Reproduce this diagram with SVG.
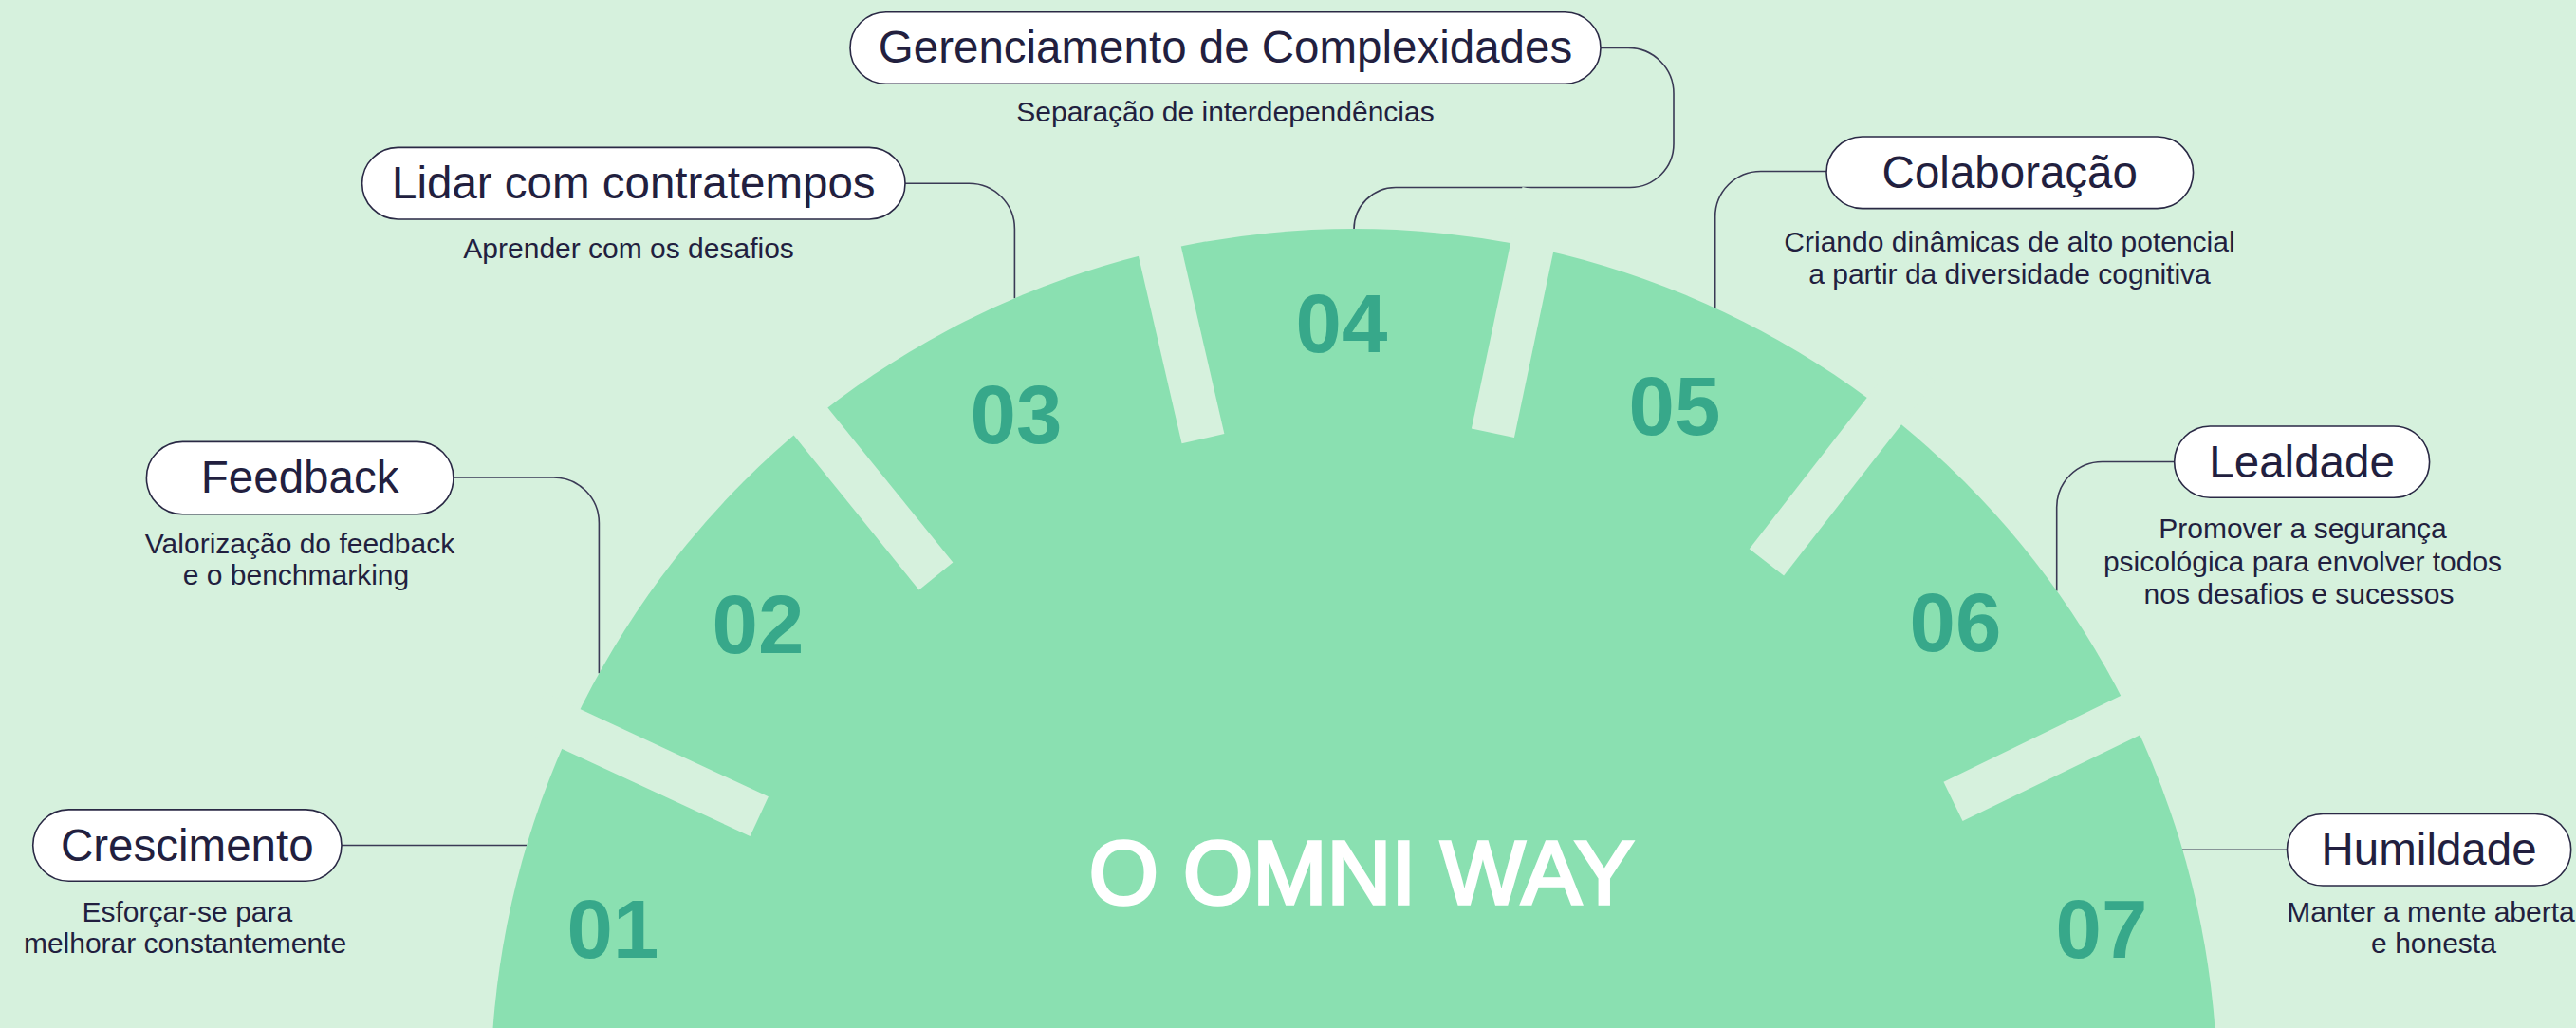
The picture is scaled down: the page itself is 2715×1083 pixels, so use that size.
<svg xmlns="http://www.w3.org/2000/svg" width="2715" height="1083" viewBox="0 0 2715 1083">
<style>
.bg{fill:#D6F1DD}
.wheel{fill:#8AE0B1}
.gap{fill:#D6F1DD}
.num{font-family:"Liberation Sans",Arial,sans-serif;font-weight:bold;font-size:87px;fill:#37A88A;text-anchor:middle}
.center{font-family:"Liberation Sans",Arial,sans-serif;font-size:94px;fill:#FFFFFF;stroke:#FFFFFF;stroke-width:3.6;text-anchor:middle}
.pill{fill:#FFFFFF;stroke:#2A2945;stroke-width:1.6}
.title{font-family:"Liberation Sans",Arial,sans-serif;font-size:47.5px;fill:#221F3F;text-anchor:middle}
.desc{font-family:"Liberation Sans",Arial,sans-serif;font-size:30px;fill:#221F3F;text-anchor:middle}
.conn{fill:none;stroke:#3A3A55;stroke-width:1.6}
</style>
<rect class="bg" x="0" y="0" width="2715" height="1083"/>

<g id="connectors">
<path class="conn" d="M360,890.5 H555"/>
<path class="conn" d="M477.9,503 H583.4 A48,48 0 0 1 631.4,551 V709.3"/>
<path class="conn" d="M954,193.2 H1021.4 A48,48 0 0 1 1069.4,241.2 V314.2"/>
<path class="conn" d="M1687,50.4 H1716 A48,48 0 0 1 1764,98.4 V151.5 A46,46 0 0 1 1718,197.5 H1471 A44,44 0 0 0 1427,241.5 V245"/>
<path class="conn" d="M1925,180.5 H1855.7 A48,48 0 0 0 1807.7,228.5 V324.5"/>
<path class="conn" d="M2291.7,486.5 H2215.7 A48,48 0 0 0 2167.7,534.5 V622.4"/>
<path class="conn" d="M2410.5,895.3 H2298.7"/>
</g>

<g id="wheel">
<circle class="wheel" cx="1427" cy="1151" r="910"/>
<rect class="gap" x="2118" y="1128" width="260" height="46" transform="rotate(-155.1 1427 1151)"/>
<rect class="gap" x="2127" y="1128" width="260" height="46" transform="rotate(-129.0 1427 1151)"/>
<rect class="gap" x="2134" y="1128" width="260" height="46" transform="rotate(-103.0 1427 1151)"/>
<rect class="gap" x="2137" y="1128" width="260" height="46" transform="rotate(-78.1 1427 1151)"/>
<rect class="gap" x="2135" y="1128" width="260" height="46" transform="rotate(-52.1 1427 1151)"/>
<rect class="gap" x="2129" y="1128" width="260" height="46" transform="rotate(-25.9 1427 1151)"/>
<text class="center" x="1435" y="951.5">O OMNI WAY</text>
</g>

<g id="segment-01"><text class="num" x="646" y="1009">01</text></g>
<g id="segment-02"><text class="num" x="799" y="688">02</text></g>
<g id="segment-03"><text class="num" x="1071" y="467">03</text></g>
<g id="segment-04"><text class="num" x="1414" y="371">04</text></g>
<g id="segment-05"><text class="num" x="1765" y="458">05</text></g>
<g id="segment-06"><text class="num" x="2061" y="686">06</text></g>
<g id="segment-07"><text class="num" x="2215" y="1009">07</text></g>

<g id="node-crescimento">
<rect class="pill" x="34.7" y="852.9" width="325.3" height="75.4" rx="37.7"/>
<text class="title" x="197.3" y="906.5">Crescimento</text>
<text class="desc" x="197.3" y="970.6">Esforçar-se para</text>
<text class="desc" x="195" y="1003.5">melhorar constantemente</text>
</g>

<g id="node-feedback">
<rect class="pill" x="154.4" y="465.4" width="323.5" height="76.4" rx="38"/>
<text class="title" x="316.1" y="519">Feedback</text>
<text class="desc" x="316" y="582.8">Valorização do feedback</text>
<text class="desc" x="312" y="616">e o benchmarking</text>
</g>

<g id="node-contratempos">
<rect class="pill" x="381.6" y="155.4" width="572.4" height="75.6" rx="37.8"/>
<text class="title" x="667.8" y="209">Lidar com contratempos</text>
<text class="desc" x="662.6" y="272">Aprender com os desafios</text>
</g>

<g id="node-complexidades">
<rect class="pill" x="896" y="12.7" width="791" height="75.6" rx="37.8"/>
<text class="title" x="1291.5" y="66">Gerenciamento de Complexidades</text>
<text class="desc" x="1291.5" y="128">Separação de interdependências</text>
</g>

<g id="node-colaboracao">
<rect class="pill" x="1925" y="144" width="386.6" height="75.6" rx="37.8"/>
<text class="title" x="2118.3" y="197.5">Colaboração</text>
<text class="desc" x="2118" y="265">Criando dinâmicas de alto potencial</text>
<text class="desc" x="2118" y="298.5">a partir da diversidade cognitiva</text>
</g>

<g id="node-lealdade">
<rect class="pill" x="2291.7" y="449" width="268.9" height="75.3" rx="37.6"/>
<text class="title" x="2426.1" y="502.5">Lealdade</text>
<text class="desc" x="2427" y="567.4">Promover a segurança</text>
<text class="desc" x="2427" y="601.5">psicológica para envolver todos</text>
<text class="desc" x="2423" y="635.6">nos desafios e sucessos</text>
</g>

<g id="node-humildade">
<rect class="pill" x="2410.5" y="857.5" width="299.2" height="75.5" rx="37.7"/>
<text class="title" x="2560.1" y="911">Humildade</text>
<text class="desc" x="2562" y="970.6">Manter a mente aberta</text>
<text class="desc" x="2565" y="1003.5">e honesta</text>
</g>
</svg>
